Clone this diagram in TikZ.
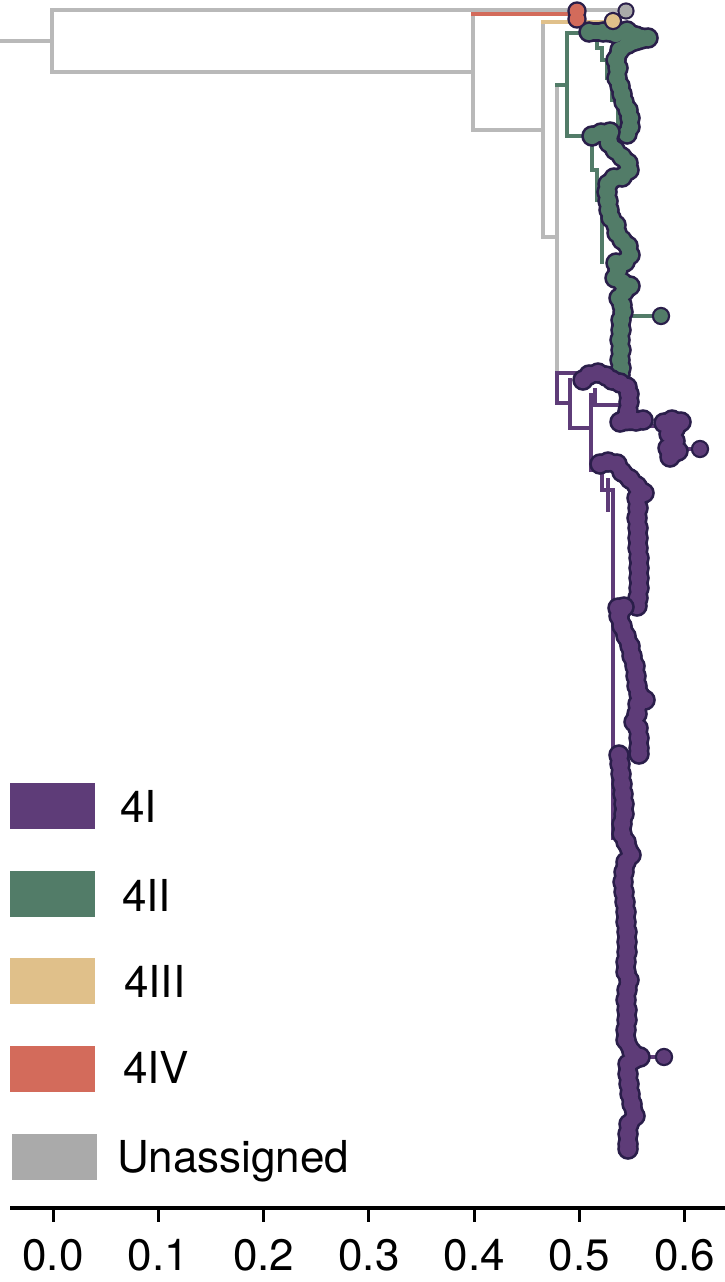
\documentclass[tikz,border=0pt]{standalone}
\usepackage{fontspec}
\setmainfont{TeX Gyre Heros}
\usetikzlibrary{positioning}

\definecolor{cladeI}{HTML}{5E3C78}
\definecolor{cladeII}{HTML}{527C68}
\definecolor{cladeIII}{HTML}{E0C08A}
\definecolor{cladeIV}{HTML}{D36B5B}
\definecolor{cladeNA}{HTML}{AAAAAA}
\definecolor{treeGray}{HTML}{B9B9B9}
\definecolor{tipRim}{HTML}{2A1E4A}

% tips of one clade: dark rim first, then the fill on top
\newcommand{\tipblob}[3][1]{%
  \foreach \x/\y [remember=\x as \lx (initially -1), remember=\y as \ly (initially -1)] in {#3} {
    \fill[tipRim] (\x,\y) circle (10.8pt*#1);
    \ifnum\lx>-1 \draw[tipRim, line width=19.4pt*#1, line cap=round] (\lx,\ly) -- (\x,\y); \fi
  }
  \foreach \x/\y [remember=\x as \lx (initially -1), remember=\y as \ly (initially -1)] in {#3} {
    \fill[#2] (\x,\y) circle (8.1pt*#1);
    \ifnum\lx>-1 \draw[#2, line width=14pt*#1, line cap=round] (\lx,\ly) -- (\x,\y); \fi
  }
}

\begin{document}
\begin{tikzpicture}[x=1pt, y=-1pt,
    graybranch/.style={treeGray, line width=4pt, line cap=rect},
    cladebranch/.style={#1, line width=3.5pt, line cap=rect},
    swatch/.style={minimum width=85pt, minimum height=46pt, inner sep=0pt, anchor=north west},
    lgtext/.style={font=\fontsize{44}{50}\selectfont, inner sep=0pt, anchor=base west},
    ticklabel/.style={font=\fontsize{44}{50}\selectfont, inner sep=0pt, anchor=base}]
    \useasboundingbox (0,0) rectangle (725,1282);

    % Backbone (unassigned)
    \draw[graybranch] (0,41) -- (52,41);
    \draw[graybranch] (52,10) -- (52,72);
    \draw[graybranch] (52,10) -- (620,10);
    \draw[graybranch] (52,72) -- (473,72);
    \draw[graybranch] (473,14) -- (473,130);
    \draw[graybranch] (473,130) -- (543,130);
    \draw[graybranch] (543,22) -- (543,237);
    \draw[graybranch] (543,237) -- (557,237);
    \draw[graybranch] (557,85) -- (557,375);

    % 4IV and 4III stems
    \draw[cladebranch=cladeIV, line width=4pt] (473,14) -- (572,14);
    \draw[cladebranch=cladeIII, line width=4pt] (543,22) -- (606,22);

    % 4II branches
    \draw[cladebranch=cladeII] (557,85) -- (567,85);
    \draw[cladebranch=cladeII] (567,33) -- (567,136);
    \draw[cladebranch=cladeII] (567,33) -- (589,33);
    \draw[cladebranch=cladeII] (567,136) -- (590,136);
    \draw[cladebranch=cladeII] (583,37) -- (597,37) -- (597,48) -- (602,48) -- (602,60) -- (607,60)
        -- (607,78) -- (612,78) -- (612,100) -- (618,100) -- (618,128);
    \draw[cladebranch=cladeII] (592,140) -- (592,170) -- (597,170) -- (597,200) -- (602,200) -- (602,262);
    \draw[cladebranch=cladeII] (625,316) -- (655,316);

    % 4I branches
    \draw[cladebranch=cladeI] (557,373) -- (557,403);
    \draw[cladebranch=cladeI] (557,373) -- (582,373);
    \draw[cladebranch=cladeI] (557,403) -- (570,403);
    \draw[cladebranch=cladeI] (570,380) -- (570,428) -- (591,428);
    \draw[cladebranch=cladeI] (591,395) -- (591,470) -- (602,470) -- (602,490) -- (613,490) -- (613,838);
    \draw[cladebranch=cladeI] (595,390) -- (595,405) -- (618,405);
    \draw[cladebranch=cladeI] (608,480) -- (608,510);
    \draw[cladebranch=cladeI] (613,606) -- (620,606);
    \draw[cladebranch=cladeI] (645,426) -- (662,426);
    \draw[cladebranch=cladeI] (680,449) -- (700,449);
    \draw[cladebranch=cladeI] (640,1057) -- (664,1057);

    % Tips
    \tipblob{cladeII}{589/32, 603/32, 616/34, 627/31, 636/36, 648/38, 628/44, 620/50, 616/60, 618/68,
        617/78, 620/86, 622/94, 624/102, 628/110, 630/118, 630/127, 627/134}
    \tipblob{cladeII}{592/136, 601/133, 610/132, 609/143, 615/150, 622/157, 628/163, 629/170, 622/177,
        614/178, 608/184, 607/192, 608/201, 609/210, 611/218, 616/225, 617/233, 622/240, 628/246,
        630/255, 625/262, 616/263, 618/270, 615/278, 622/282, 630/286, 624/292, 619/298, 622/305,
        623/312, 621/320, 621/330, 620/340, 621/350, 620/360, 621/368, 620/375}
    \tipblob[0.85]{cladeII}{661/316}
    \tipblob[0.9]{cladeIV}{577/11, 577/19}
    \tipblob[0.85]{cladeIII}{613/21}
    \tipblob[0.8]{cladeNA}{626/11}
    \tipblob{cladeI}{583/380, 589/375, 598/373, 606/376, 612/380, 620/383, 627/387, 629/394, 629/402,
        628/411, 625/419, 620/422, 636/421, 643/420}
    \tipblob{cladeI}{664/423, 672/420, 681/422, 675/429, 669/434, 675/441, 668/448, 670/457, 678/451}
    \tipblob[0.85]{cladeI}{700/449}
    \tipblob{cladeI}{600/464, 608/462, 617/464, 622/472, 630/479, 637/486, 644/493, 637/498, 638/508,
        637/518, 638/528, 638/538, 638/548, 639/558, 639/568, 639/578, 639/588, 638/598, 637/606}
    \tipblob{cladeI}{618/608, 624/607, 619/616, 622/626, 626/636, 630/646, 632/656, 635/666, 636/676,
        637/686, 639/694, 645/700, 638/704, 637/714, 634/722, 638/728, 639/738, 639/748, 639/754}
    \tipblob{cladeI}{619/755, 620/764, 621/774, 622/784, 623/794, 624/804, 624/814, 622/824, 622/834,
        626/842, 631/855, 626/862, 624/872, 623/882, 624/892, 625/902, 626/912, 626/922, 627/932,
        627/942, 627/952, 626/962, 626/972, 629/980, 627/990, 626/1000, 627/1010, 627/1020, 626/1030,
        626/1040, 632/1052, 640/1057, 628/1064, 628/1074, 629/1084, 630/1094, 632/1104, 635/1116,
        629/1124, 628/1134, 628/1144, 628/1149}
    \tipblob[0.85]{cladeI}{664/1057}

    % Legend
    \node[swatch, fill=cladeI] (swI) at (10,783) {};
    \node[swatch, fill=cladeII] (swII) at (10,871) {};
    \node[swatch, fill=cladeIII] (swIII) at (10,958) {};
    \node[swatch, fill=cladeIV] (swIV) at (10,1046) {};
    \node[swatch, fill=cladeNA] (swNA) at (12,1134) {};
    \node[lgtext] (lgI) at (120,822) {4I};
    \node[lgtext] (lgII) at (122,911) {4II};
    \node[lgtext] (lgIII) at (124,997) {4III};
    \node[lgtext] (lgIV) at (123,1083) {4IV};
    \node[lgtext] (lgNA) at (117,1172) {Unassigned};

    % Axis
    \draw[line width=4pt] (10,1208) -- (725,1208);
    \foreach \v [count=\i from 0] in {0.0,0.1,0.2,0.3,0.4,0.5,0.6} {
        \draw[line width=3pt] (53+105.3*\i,1208) -- (53+105.3*\i,1222);
        \node[ticklabel] (tick\i) at (53+105.3*\i,1270) {\v};
    }

\end{tikzpicture}
\end{document}
